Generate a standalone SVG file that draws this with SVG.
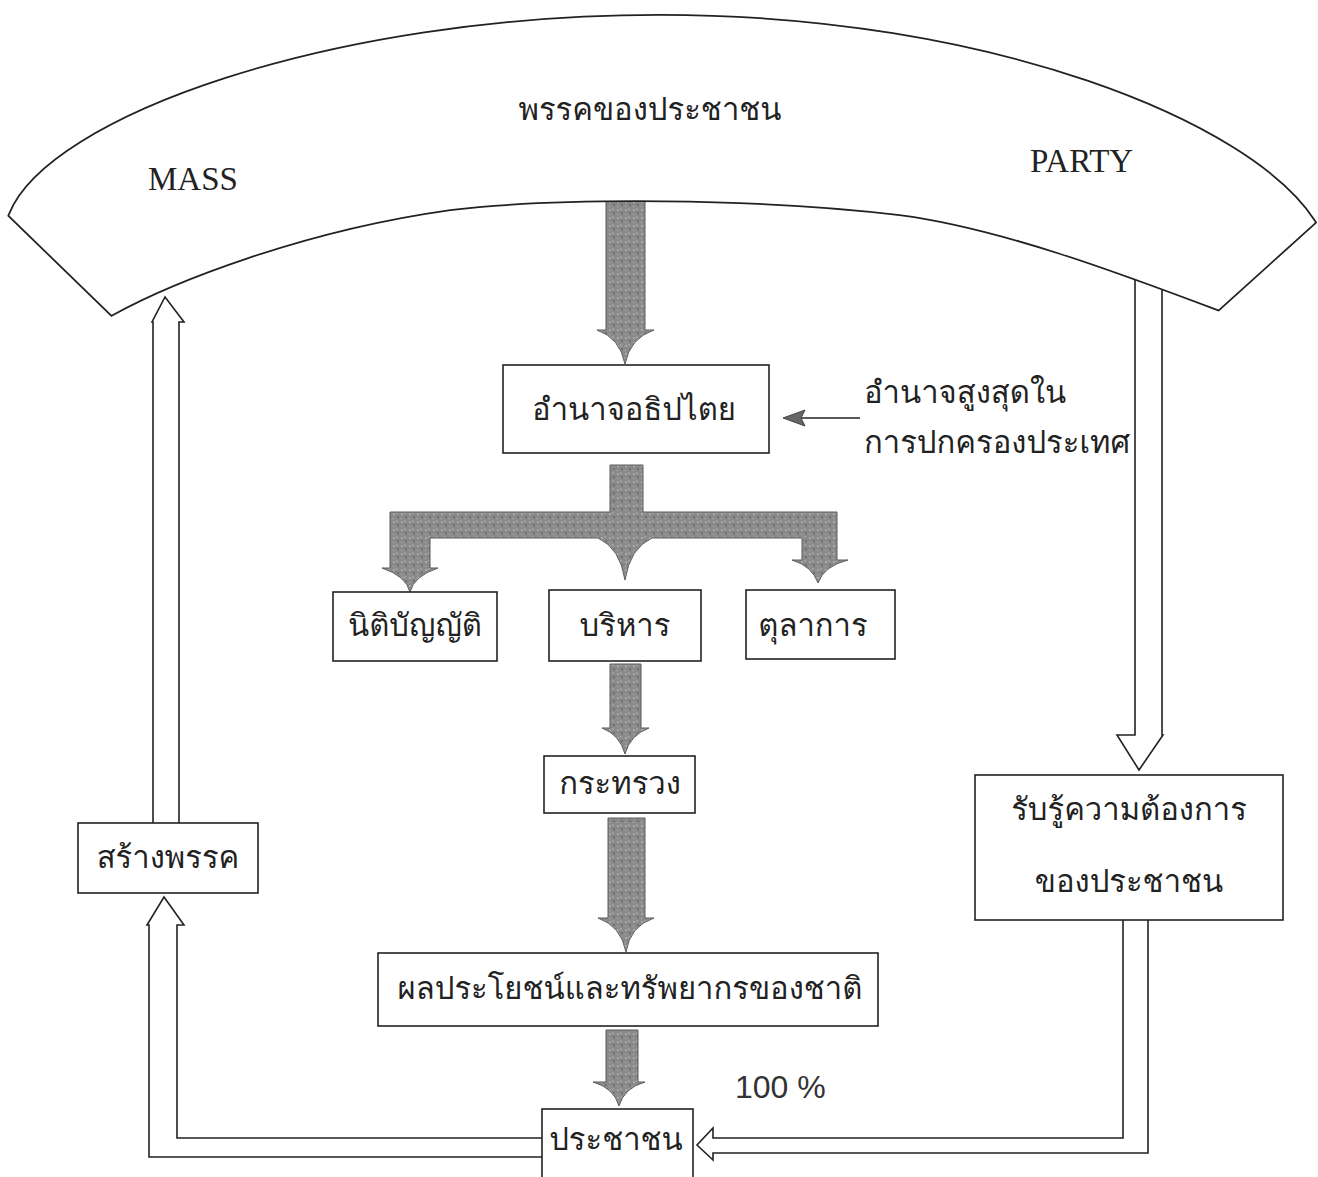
<svg xmlns="http://www.w3.org/2000/svg" width="1318" height="1177" viewBox="0 0 1318 1177">
<style>
.th{font-family:"Loma","Garuda","Noto Sans Thai Looped","Noto Sans Thai","Noto Sans","DejaVu Sans",sans-serif;font-size:31px;fill:#222}
.lat{font-family:"Liberation Serif",serif;font-size:33px;fill:#222}
.box{fill:#fff;stroke:#222;stroke-width:1.6}
.hollow{fill:#fff;stroke:#222;stroke-width:1.6;stroke-linejoin:miter}
.gray{fill:url(#speck);stroke:#5a5a5a;stroke-width:1}
</style>
<defs>
<pattern id="speck" width="8" height="8" patternUnits="userSpaceOnUse">
<rect width="8" height="8" fill="#8a8a8a"/>
<circle cx="2" cy="2" r="1" fill="#b5b5b5"/>
<circle cx="6" cy="5" r="1.1" fill="#6a6a6a"/>
<circle cx="5" cy="1" r="0.7" fill="#c4c4c4"/>
<circle cx="1.5" cy="6.5" r="0.8" fill="#a8a8a8"/>
</pattern>
</defs>
<rect width="1318" height="1177" fill="#fff"/>
<g id="connectors">
<path class="gray" d="M606,190 H645 V330 L654,330 Q630,338 625,364 Q620,338 597,330 L606,330 Z"/>
<path class="gray" d="M610,465 H643 V512 H837 V560 L848,560 Q824,566 818,583 Q812,566 792,560 L802,560 V538 H652 Q630,548 625,580 Q620,548 598,538 H430 V568 L438,568 Q414,576 410,592 Q406,576 382,568 L390,568 V512 H610 Z"/>
<path class="gray" d="M610,664 H641 V728 L649,728 Q630,735 625,754 Q620,735 602,728 L610,728 Z"/>
<path class="gray" d="M608,818 H645 V918 L654,918 Q630,926 626,952 Q621,926 598,918 L608,918 Z"/>
<path class="gray" d="M606,1030 H638 V1082 L645,1082 Q624,1088 619,1106 Q614,1088 593,1082 L606,1082 Z"/>
<line x1="860" y1="418" x2="800" y2="418" stroke="#222" stroke-width="1.6"/>
<path d="M783,418 L805,410 L801,418 L805,426 Z" fill="#666" stroke="#444" stroke-width="1"/>
<path class="hollow" d="M153,823 V322 H152 L165,297 L184,322 H179 V823"/>
<path class="hollow" d="M542,1138 H177 V925 H184 L164,897 L147,925 H149 V1157 H542"/>
<path class="hollow" d="M1135,270 V735 H1117 L1139,770 L1163,735 H1162 V270"/>
<path class="hollow" d="M1123,920 V1138 H713 V1128 L697,1145 L713,1160 V1153 H1148 V920"/>
</g>
<g id="band">
<path d="M12,215 C50,120 330,18 660,18 C990,18 1250,125 1312,222 L1218,307 C1120,270 1000,225 900,212 C760,195 560,194 450,207 C300,228 170,280 112,312 Z" fill="#fff" stroke="#222" stroke-width="8" stroke-linejoin="miter"/>
<path d="M12,215 C50,120 330,18 660,18 C990,18 1250,125 1312,222 L1218,307 C1120,270 1000,225 900,212 C760,195 560,194 450,207 C300,228 170,280 112,312 Z" fill="#fff" stroke="#fff" stroke-width="4.5" stroke-linejoin="miter"/>
<text class="th" x="650" y="120" text-anchor="middle">พรรคของประชาชน</text>
<text class="lat" x="148" y="190">MASS</text>
<text class="lat" x="1030" y="172">PARTY</text>
</g>
<g id="n-sovereign"><rect class="box" x="503" y="365" width="266" height="88"/><text class="th" x="634" y="420" text-anchor="middle">อำนาจอธิปไตย</text></g>
<g id="n-supreme"><text class="th" x="864" y="403">อำนาจสูงสุดใน</text><text class="th" x="864" y="453">การปกครองประเทศ</text></g>
<g id="n-legislative"><rect class="box" x="333" y="592" width="164" height="69"/><text class="th" x="415" y="636" text-anchor="middle">นิติบัญญัติ</text></g>
<g id="n-executive"><rect class="box" x="549" y="590" width="152" height="71"/><text class="th" x="625" y="636" text-anchor="middle">บริหาร</text></g>
<g id="n-judicial"><rect class="box" x="746" y="590" width="149" height="69"/><text class="th" x="813" y="636" text-anchor="middle">ตุลาการ</text></g>
<g id="n-ministry"><rect class="box" x="544" y="756" width="151" height="57"/><text class="th" x="620" y="794" text-anchor="middle">กระทรวง</text></g>
<g id="n-benefit"><rect class="box" x="378" y="953" width="500" height="73"/><text class="th" x="630" y="999" text-anchor="middle">ผลประโยชน์และทรัพยากรของชาติ</text></g>
<g id="n-people"><rect class="box" x="542" y="1109" width="151" height="80"/><text class="th" x="616" y="1150" text-anchor="middle">ประชาชน</text></g>
<g id="n-percent"><text x="735" y="1098" style="font-family:'Liberation Sans',sans-serif;font-size:32px;fill:#333">100 %</text></g>
<g id="n-build"><rect class="box" x="78" y="823" width="180" height="70"/><text class="th" x="168" y="868" text-anchor="middle">สร้างพรรค</text></g>
<g id="n-needs"><rect class="box" x="975" y="775" width="308" height="145"/><text class="th" x="1129" y="820" text-anchor="middle">รับรู้ความต้องการ</text><text class="th" x="1129" y="892" text-anchor="middle">ของประชาชน</text></g>
</svg>
